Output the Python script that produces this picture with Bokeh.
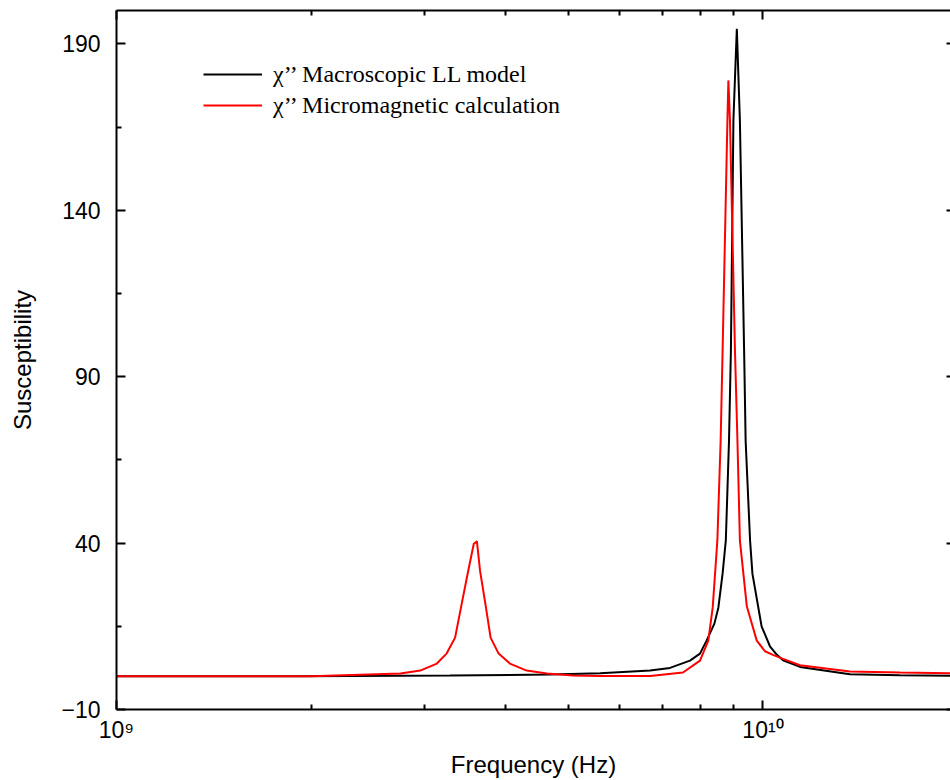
from bokeh.plotting import figure
from bokeh.models import (LogAxis, LinearAxis, FixedTicker, Range1d, Legend,
                          LegendItem, CustomJSTickFormatter)
from bokeh.embed import file_html
from bokeh.resources import INLINE

# chi'' from the macroscopic Landau-Lifshitz model (black)
freq_ll = [1.00e9, 1.93e9, 3.28e9, 4.69e9, 5.60e9, 6.69e9, 7.18e9, 7.71e9, 7.99e9,
           8.18e9, 8.41e9, 8.53e9, 8.66e9, 8.76e9, 8.86e9, 8.92e9, 9.00e9, 9.11e9,
           9.21e9, 9.35e9, 9.40e9, 9.55e9, 9.63e9, 9.95e9, 1.025e10, 1.05e10,
           1.074e10, 1.141e10, 1.363e10, 1.628e10, 1.95e10]
chi_ll = [0.0, 0.0, 0.2, 0.5, 0.9, 1.7, 2.5, 4.7, 6.8,
          10.7, 15.8, 20.6, 30.8, 40.8, 70.8, 97.8, 167.0, 194.5,
          167.0, 97.8, 70.8, 40.8, 30.8, 15.0, 9.0, 6.5,
          4.8, 2.8, 0.6, 0.3, 0.1]

# chi'' from the micromagnetic calculation (red)
freq_mm = [1.00e9, 2.00e9, 2.75e9, 2.95e9, 3.13e9, 3.24e9, 3.34e9, 3.42e9, 3.50e9,
           3.57e9, 3.61e9, 3.65e9, 3.72e9, 3.79e9, 3.90e9, 4.06e9, 4.31e9, 4.63e9,
           5.09e9, 5.60e9, 6.69e9, 7.52e9, 7.99e9, 8.23e9, 8.36e9, 8.50e9, 8.60e9,
           8.66e9, 8.81e9, 8.84e9, 8.89e9, 9.05e9, 9.13e9, 9.21e9, 9.44e9, 9.78e9,
           1.007e10, 1.036e10, 1.074e10, 1.141e10, 1.363e10, 1.628e10, 1.95e10]
chi_mm = [0.0, 0.0, 0.8, 1.7, 3.8, 6.8, 11.6, 21.8, 31.7,
          39.8, 40.5, 31.7, 21.8, 11.6, 6.8, 3.8, 1.7, 0.8,
          0.2, 0.1, 0.1, 1.1, 4.7, 10.7, 20.6, 40.8, 70.8,
          97.8, 167.0, 179.0, 167.0, 97.8, 70.8, 40.8, 21.0, 10.7,
          7.5, 6.4, 5.2, 3.3, 1.4, 1.1, 0.9]

x_major = [1e9, 1e10]
x_minor = [2e9, 3e9, 4e9, 5e9, 6e9, 7e9, 8e9, 9e9, 2e10]
y_major = [-10, 40, 90, 140, 190]
y_minor = [15, 65, 115, 165]

labels = ["\u03c7\u2019\u2019 Macroscopic LL model",
          "\u03c7\u2019\u2019 Micromagnetic calculation"]

SANS = "Liberation Sans"

p = figure(width=950, height=780, x_axis_type="log",
           x_range=Range1d(1e9, 1.95e10), y_range=Range1d(-10, 200),
           output_backend="svg", toolbar_location=None,
           min_border_left=116, min_border_right=0, min_border_top=10,
           min_border_bottom=71)
p.outline_line_color = None
p.xgrid.visible = False
p.ygrid.visible = False
p.background_fill_color = "white"
p.border_fill_color = "white"

r1 = p.line(freq_ll, chi_ll, line_color="black", line_width=2)
r2 = p.line(freq_mm, chi_mm, line_color="#ff0000", line_width=2)

sup_fmt = CustomJSTickFormatter(code="""
const e = Math.round(Math.log10(tick));
const s = {"0":"\u2070","1":"\u00b9","2":"\u00b2","3":"\u00b3","4":"\u2074",
           "5":"\u2075","6":"\u2076","7":"\u2077","8":"\u2078","9":"\u2079"};
return "10" + String(e).split("").map(c => s[c]).join("");
""")
minus_fmt = CustomJSTickFormatter(code="""
return tick < 0 ? "\u2212" + Math.abs(tick) : String(tick);
""")
blank_fmt = CustomJSTickFormatter(code="return '';")

for ax in (p.xaxis[0], p.yaxis[0]):
    ax.axis_line_width = 2
    ax.major_tick_line_width = 2
    ax.minor_tick_line_width = 2
    ax.major_tick_in = 9
    ax.major_tick_out = 0
    ax.minor_tick_in = 5
    ax.minor_tick_out = 0
    ax.major_label_text_font = SANS
    ax.major_label_text_font_size = "23px"
    ax.major_label_text_color = "black"
    ax.axis_label_text_font = SANS
    ax.axis_label_text_font_size = "24px"
    ax.axis_label_text_font_style = "normal"
    ax.axis_label_text_color = "black"

p.xaxis[0].ticker = FixedTicker(ticks=x_major, minor_ticks=x_minor)
p.xaxis[0].formatter = sup_fmt
p.xaxis[0].major_label_standoff = 7
p.xaxis[0].axis_label = "Frequency (Hz)"
p.xaxis[0].axis_label_standoff = 5

p.yaxis[0].ticker = FixedTicker(ticks=y_major, minor_ticks=y_minor)
p.yaxis[0].formatter = minus_fmt
p.yaxis[0].major_label_standoff = 16
p.yaxis[0].axis_label = "Susceptibility"
p.yaxis[0].axis_label_standoff = 22

top = LogAxis(ticker=FixedTicker(ticks=x_major, minor_ticks=x_minor),
              formatter=blank_fmt, axis_line_width=2, axis_line_color="black",
              major_tick_line_width=2, minor_tick_line_width=2,
              major_tick_in=9, major_tick_out=0, minor_tick_in=5, minor_tick_out=0,
              major_label_standoff=0, major_label_text_font_size="1px")
p.add_layout(top, "above")

right = LinearAxis(ticker=FixedTicker(ticks=y_major, minor_ticks=[]),
                   formatter=blank_fmt, axis_line_color=None,
                   major_tick_line_width=2, major_tick_in=4, major_tick_out=0,
                   minor_tick_in=0, minor_tick_out=0,
                   major_label_standoff=0, major_label_text_font_size="1px")
p.add_layout(right, "right")

legend = Legend(items=[LegendItem(label=labels[0], renderers=[r1]),
                       LegendItem(label=labels[1], renderers=[r2])],
                location=(87, 590), label_text_font="Liberation Serif",
                label_text_font_size="24px", label_text_color="black",
                glyph_width=59, glyph_height=28, label_height=28, spacing=3,
                padding=0, margin=0, label_standoff=11,
                border_line_color=None, background_fill_alpha=0)
p.add_layout(legend)

open("out.html", "w").write(file_html(p, INLINE))
